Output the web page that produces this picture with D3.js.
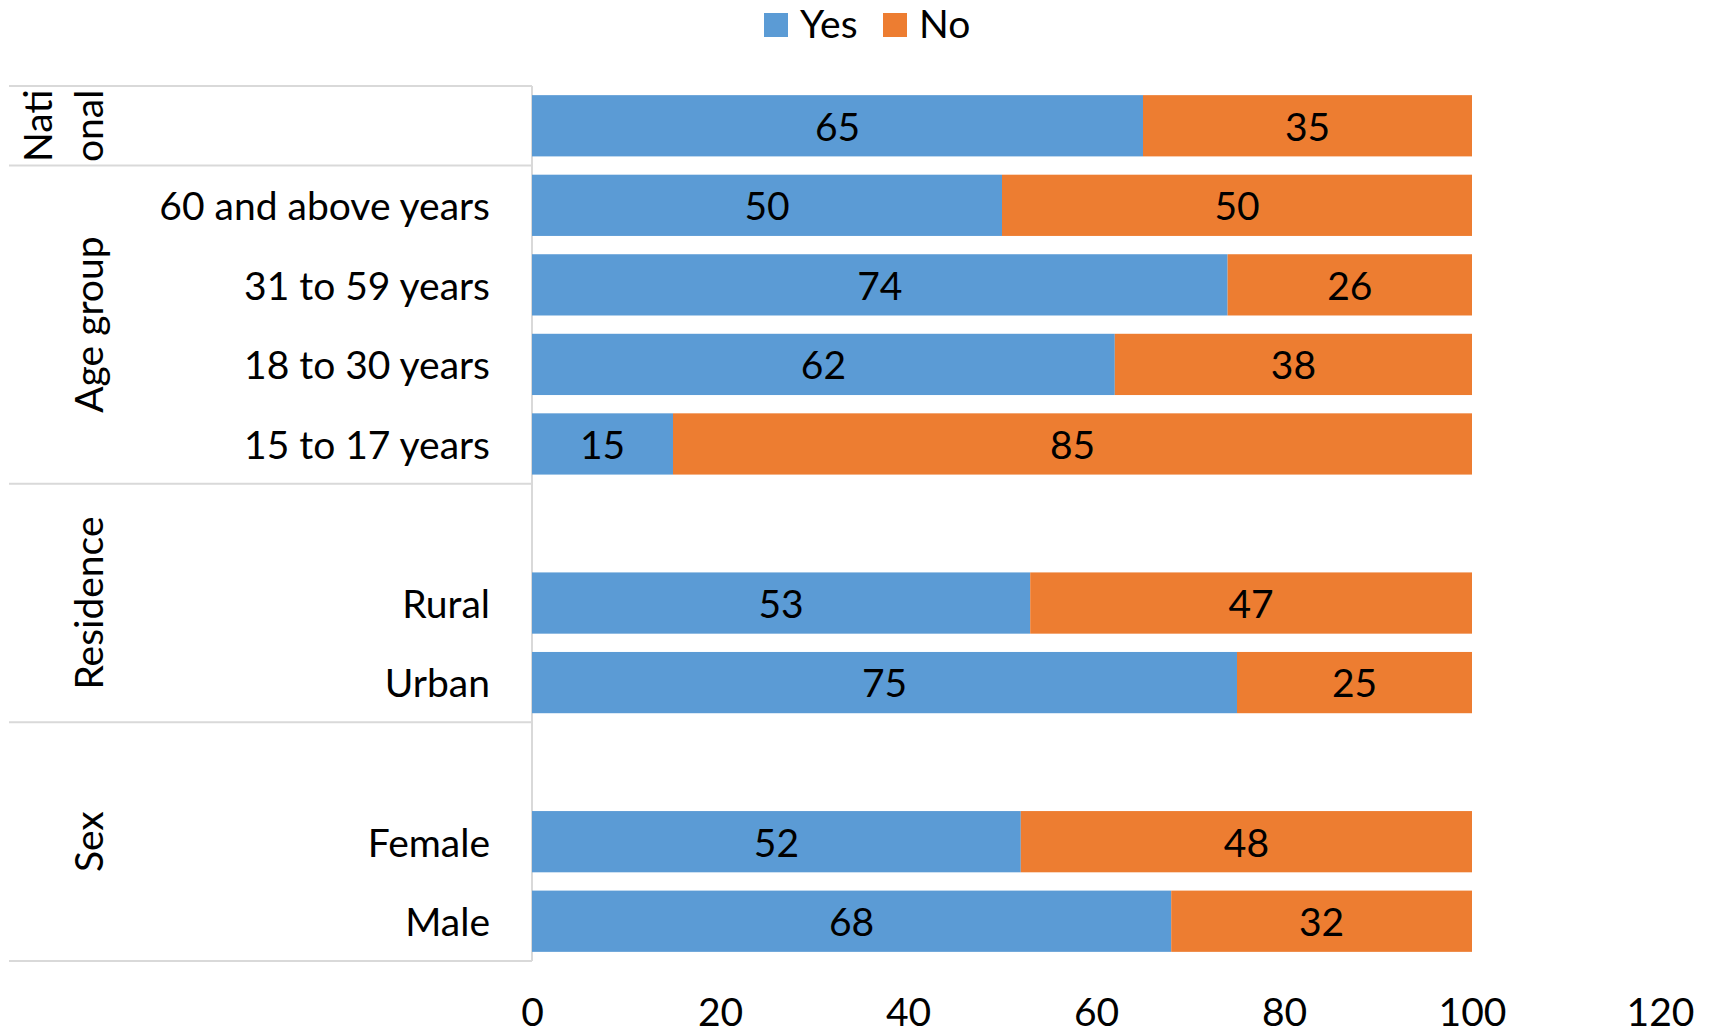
<!DOCTYPE html>
<html>
<head>
<meta charset="utf-8">
<script src="https://cdn.jsdelivr.net/npm/d3@7"></script>
<style>
  body { margin: 0; background: #fff; }
  text { font-family: Lato, "Open Sans", sans-serif; fill: #000; }
</style>
</head>
<body>
<div id="chart"></div>
<script>
// one entry per row, top to bottom (blank rows are empty slots inside a group)
var categories = ["", "60 and above years", "31 to 59 years", "18 to 30 years", "15 to 17 years", "", "Rural", "Urban", "", "Female", "Male"];
var categoryGroup = ["National", "Age group", "Age group", "Age group", "Age group", "Residence", "Residence", "Residence", "Sex", "Sex", "Sex"];
var yesValues = [65, 50, 74, 62, 15, null, 53, 75, null, 52, 68];
var noValues  = [35, 50, 26, 38, 85, null, 47, 25, null, 48, 32];
var groups = ["National", "Age group", "Residence", "Sex"];
var groupLines = [["Nati", "onal"], ["Age group"], ["Residence"], ["Sex"]];
var seriesNames = ["Yes", "No"];
var xTicks = [0, 20, 40, 60, 80, 100, 120];

var width = 1712, height = 1033;
var colors = {"Yes": "#5B9BD5", "No": "#ED7D31"};
var fs = 39;

var svg = d3.select("#chart").append("svg")
    .attr("width", width)
    .attr("height", height);

var x = d3.scaleLinear().domain([0, 120]).range([532, 1660]);
var rows = d3.range(categories.length);
var y = d3.scaleBand().domain(rows).range([86, 961]).paddingInner(0.23).paddingOuter(0.115);

// table lines of the grouped category axis
var grid = svg.append("g").attr("stroke", "#d9d9d9").attr("stroke-width", 2);
var bounds = [0];
groups.forEach(function(g) {
  bounds.push(categoryGroup.lastIndexOf(g) + 1);
});
bounds.forEach(function(b) {
  var yy = 86 + b * (875 / categories.length);
  grid.append("line").attr("x1", 9).attr("x2", x(0)).attr("y1", yy).attr("y2", yy);
});
grid.append("line").attr("x1", x(0)).attr("x2", x(0)).attr("y1", 86).attr("y2", 961);

// stacked bars
var stackData = rows.filter(function(i) { return yesValues[i] != null; }).map(function(i) {
  return {row: i, Yes: yesValues[i], No: noValues[i]};
});
var stacked = d3.stack().keys(seriesNames)(stackData);

var layers = svg.selectAll("g.layer").data(stacked).enter().append("g")
    .attr("class", "layer")
    .attr("fill", function(d) { return colors[d.key]; });

layers.selectAll("rect").data(function(d) { return d; }).enter().append("rect")
    .attr("x", function(d) { return x(d[0]); })
    .attr("width", function(d) { return x(d[1]) - x(d[0]); })
    .attr("y", function(d) { return y(d.data.row); })
    .attr("height", y.bandwidth());

layers.selectAll("text").data(function(d) { return d; }).enter().append("text")
    .attr("x", function(d) { return (x(d[0]) + x(d[1])) / 2; })
    .attr("y", function(d) { return y(d.data.row) + y.bandwidth() / 2; })
    .attr("dy", "0.38em")
    .attr("text-anchor", "middle")
    .style("font-size", fs + "px")
    .text(function(d) { return d[1] - d[0]; });

// category labels
svg.append("g").selectAll("text").data(rows).enter().append("text")
    .attr("x", 490)
    .attr("y", function(i) { return y(i) + y.bandwidth() / 2; })
    .attr("dy", "0.38em")
    .attr("text-anchor", "end")
    .style("font-size", fs + "px")
    .text(function(i) { return categories[i]; });

// group labels, rotated
groups.forEach(function(g, gi) {
  var first = categoryGroup.indexOf(g), last = categoryGroup.lastIndexOf(g);
  var cy = 86 + (first + last + 1) / 2 * (875 / categories.length);
  var lines = groupLines[gi];
  lines.forEach(function(t, li) {
    var bx = 103 - (lines.length - 1 - li) * 51;
    svg.append("text")
      .attr("transform", "translate(" + bx + "," + cy + ") rotate(-90)")
      .attr("text-anchor", "middle")
      .style("font-size", fs + "px")
      .text(t);
  });
});

// x axis
var xAxis = svg.append("g")
    .attr("transform", "translate(0,1000)")
    .call(d3.axisBottom(x).tickValues(xTicks).tickSize(0).tickPadding(0));
xAxis.select(".domain").remove();
xAxis.selectAll("text")
    .attr("y", 0).attr("dy", "0.36em")
    .style("font-size", fs + "px")
    .style("font-family", "Lato, sans-serif")
    .attr("fill", "#000")
    .attr("transform", "translate(0,12)");

// legend
var legend = svg.append("g");
var legendX = [764, 883];
seriesNames.forEach(function(s, i) {
  legend.append("rect").attr("x", legendX[i]).attr("y", 13).attr("width", 24).attr("height", 24).attr("fill", colors[s]);
  legend.append("text").attr("x", legendX[i] + 36).attr("y", 38)
    .style("font-size", fs + "px").text(s);
});
</script>
</body>
</html>
